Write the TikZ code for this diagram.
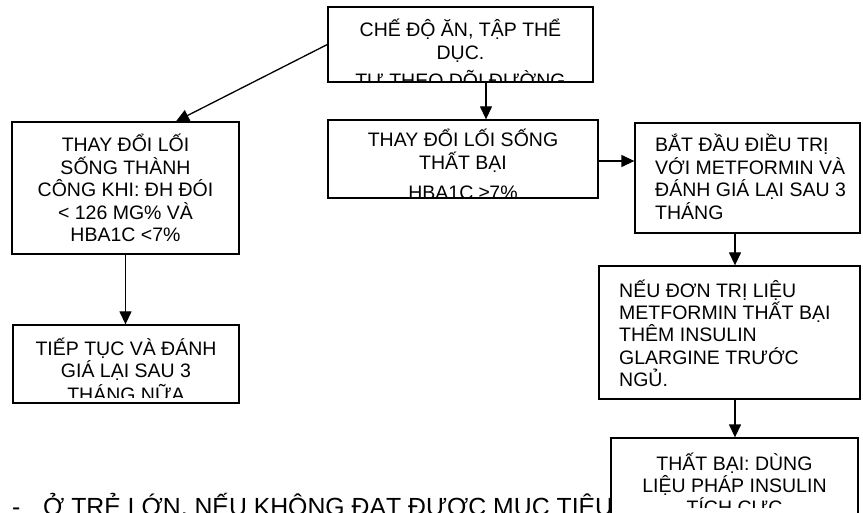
\documentclass[tikz,border=0pt]{standalone}
\usepackage{fontspec}
\setmainfont{Liberation Sans}
\usetikzlibrary{arrows.meta}
\tikzset{
  boxn/.style={draw, line width=1.3pt, fill=white, inner sep=0pt},
  txt/.style={inner sep=0pt, font=\fontsize{19.5}{22.4}\selectfont},
  foottxt/.style={inner sep=0pt, font=\fontsize{24.8}{28}\selectfont, anchor=base west},
  arr/.style={line width=1.3pt, -{Triangle[width=12pt,length=13pt]}},
}
\begin{document}
\begin{tikzpicture}[x=1pt,y=-1pt]
\useasboundingbox (0,0) rectangle (863,513);
\clip (0,0) rectangle (863,513);
\fill[white] (0,0) rectangle (863,513);

% footnote line (partly hidden under the last box)
\node[foottxt] (dash) at (12,515) {-};
\node[foottxt] (foot) at (43,515) {Ở TRẺ LỚN, NẾU KHÔNG ĐẠT ĐƯỢC MỤC TIÊU};

% boxes
\node[boxn, minimum width=265pt, minimum height=75pt] (top) at (460.5,44.5) {};
\node[boxn, minimum width=227pt, minimum height=132pt] (lb) at (125.5,188) {};
\node[boxn, minimum width=270pt, minimum height=78pt] (mid) at (463,159) {};
\node[boxn, minimum width=225pt, minimum height=110pt] (rt) at (747.5,178) {};
\node[boxn, minimum width=261pt, minimum height=133pt] (rm) at (729.5,332.5) {};
\node[boxn, minimum width=226pt, minimum height=78pt] (bl) at (126,364) {};
\node[boxn, minimum width=247pt, minimum height=92pt] (br) at (734.5,484) {};

% texts, clipped to their boxes (anchor = baseline of the last line)
\begin{scope}
\clip ([xshift=1pt,yshift=-1pt]top.north west) rectangle ([xshift=-1pt,yshift=1pt]top.south east);
\node[txt, align=center, anchor=base] (topt) at (460.5,87.8) {CHẾ ĐỘ ĂN, TẬP THỂ\\DỤC.\\[6pt]TỰ THEO DÕI ĐƯỜNG};
\end{scope}
\begin{scope}
\clip ([xshift=1pt,yshift=-1pt]lb.north west) rectangle ([xshift=-1pt,yshift=1pt]lb.south east);
\node[txt, align=center, anchor=base] (lbt) at (125.5,241.6) {THAY ĐỔI LỐI\\SỐNG THÀNH\\CÔNG KHI: ĐH ĐÓI\\< 126 MG\% VÀ\\HBA1C <7\%};
\end{scope}
\begin{scope}
\clip ([xshift=1pt,yshift=-1pt]mid.north west) rectangle ([xshift=-1pt,yshift=1pt]mid.south east);
\node[txt, align=center, anchor=base] (midt) at (463,199.8) {THAY ĐỔI LỐI SỐNG\\THẤT BẠI\\[8pt]HBA1C ≥7\%};
\end{scope}
\begin{scope}
\clip ([xshift=1pt,yshift=-1pt]rt.north west) rectangle ([xshift=-1pt,yshift=1pt]rt.south east);
\node[txt, align=left, anchor=base west] (rtt) at (655,219.2) {BẮT ĐẦU ĐIỀU TRỊ\\VỚI METFORMIN VÀ\\ĐÁNH GIÁ LẠI SAU 3\\THÁNG};
\end{scope}
\begin{scope}
\clip ([xshift=1pt,yshift=-1pt]rm.north west) rectangle ([xshift=-1pt,yshift=1pt]rm.south east);
\node[txt, align=left, anchor=base west] (rmt) at (619,386.6) {NẾU ĐƠN TRỊ LIỆU\\METFORMIN THẤT BẠI\\THÊM INSULIN\\GLARGINE TRƯỚC\\NGỦ.};
\end{scope}
\begin{scope}
\clip ([xshift=1pt,yshift=-1pt]bl.north west) rectangle ([xshift=-1pt,yshift=6pt]bl.south east);
\node[txt, align=center, anchor=base] (blt) at (126,401.8) {TIẾP TỤC VÀ ĐÁNH\\GIÁ LẠI SAU 3\\[2pt]THÁNG NỮA};
\end{scope}
\begin{scope}
\clip ([xshift=1pt,yshift=-1pt]br.north west) rectangle ([xshift=-1pt,yshift=23pt]br.south east);
\node[txt, align=center, anchor=base] (brt) at (734.5,514.8) {THẤT BẠI: DÙNG\\LIỆU PHÁP INSULIN\\TÍCH CỰC};
\end{scope}

% connectors
\coordinate (a1) at (176,0);
\coordinate (a2) at (486,0);
\coordinate (a3) at (0,161);
\coordinate (a4) at (735,0);
\draw[arr] (top.west) -- (lb.north -| a1);
\draw[arr] (top.south -| a2) -- (mid.north -| a2);
\draw[arr] (mid.east |- a3) -- (rt.west |- a3);
\draw[arr] (rt.south -| a4) -- (rm.north -| a4);
\draw[arr] (lb.south) -- (lb.south |- bl.north);
\draw[arr] (rm.south -| a4) -- (br.north -| a4);
\end{tikzpicture}
\end{document}
